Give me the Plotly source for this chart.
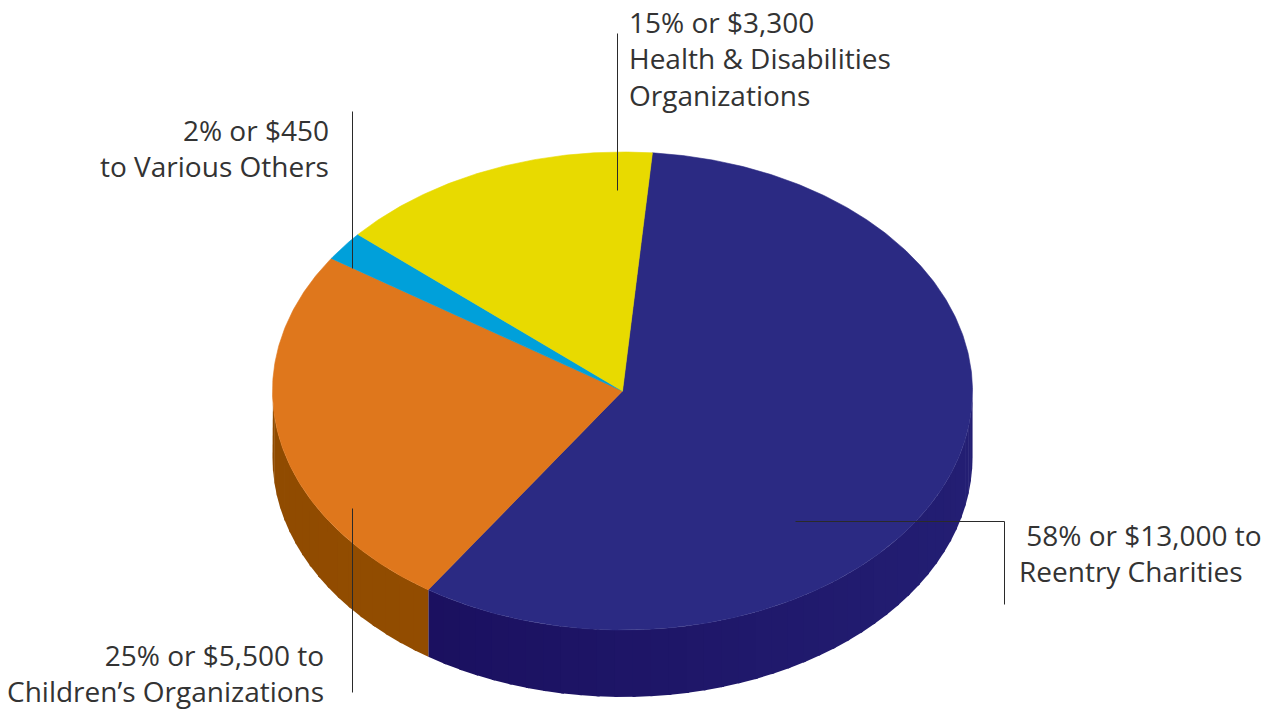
import numpy as np
import plotly.graph_objects as go

# ---- data ----
categories = ["Reentry Charities", "Children’s Organizations", "Various Others",
              "Health & Disabilities Organizations"]
percents = [58, 25, 2, 15]
amounts = [13000, 5500, 450, 3300]
label_texts = [
    "\u00a058% or $13,000 to<br>Reentry Charities",
    "25% or $5,500 to<br>Children’s Organizations",
    "2% or $450<br>to Various Others",
    "15% or $3,300<br>Health & Disabilities<br>Organizations",
]

# ---- style ----
top_colors = ["#2B2A83", "#DF771C", "#00A0DA", "#E8DA00"]
side_left = ["#180C5A", "#904B00", "#006F99", "#A39900"]
side_right = ["#231E73", "#985002", "#0078A3", "#ADA200"]

W, H = 1278, 711
CX, CY = 622.5, 391.0
RX, RY = 350.0, 239.0
DEPTH = 67.0
START = 85.1  # degrees, first slice begins here and runs clockwise


def hex2rgb(h):
    h = h.lstrip("#")
    return np.array([int(h[i:i + 2], 16) for i in (0, 2, 4)], dtype=float)


def lerp_col(c0, c1, f):
    c = hex2rgb(c0) * (1 - f) + hex2rgb(c1) * f
    return "rgb(%d,%d,%d)" % tuple(np.round(c).astype(int))


def ex(t):
    return CX + RX * np.cos(np.radians(t))


def ey(t):
    return CY - RY * np.sin(np.radians(t))


fig = go.Figure()

# slice angle ranges
total = float(sum(percents))
bounds = []
a = START
for p in percents:
    b = a - p / total * 360.0
    bounds.append((b, a))  # (lo, hi)
    a = b

# side walls (front half: sin(t) < 0)
for i, (lo, hi) in enumerate(bounds):
    for k in (-720, -360, 0, 360):
        s0 = max(lo, -180 + k)
        s1 = min(hi, 0 + k)
        if s1 <= s0:
            continue
        n = max(1, int(np.ceil((s1 - s0) / 3.0)))
        edges = np.linspace(s0, s1, n + 1)
        for j in range(n):
            e1 = min(edges[j + 1] + 0.5, s1)
            t = np.linspace(edges[j], e1, 6)
            xs = np.concatenate([ex(t), ex(t[::-1])])
            ys = np.concatenate([ey(t), ey(t[::-1]) + DEPTH])
            xm = ex((edges[j] + edges[j + 1]) / 2)
            f = (xm - (CX - RX)) / (2 * RX)
            col = lerp_col(side_left[i], side_right[i], f)
            fig.add_trace(go.Scatter(
                x=list(xs) + [xs[0]], y=list(ys) + [ys[0]], mode="lines",
                fill="toself", fillcolor=col, line=dict(width=0),
                hoverinfo="skip", showlegend=False))

# top faces
for i, (lo, hi) in enumerate(bounds):
    t = np.linspace(hi, lo, max(8, int((hi - lo) * 2)))
    xs = np.concatenate([[CX], ex(t), [CX]])
    ys = np.concatenate([[CY], ey(t), [CY]])
    fig.add_trace(go.Scatter(
        x=xs, y=ys, mode="lines", fill="toself", fillcolor=top_colors[i],
        line=dict(color=top_colors[i], width=0.6),
        name=categories[i], hoverinfo="name", showlegend=False))

# leader lines
LC = "#2a2a2a"
leaders = [
    [(795, 521), (1004, 521), (1004, 604)],
    [(352, 508), (352, 692)],
    [(352, 111), (352, 268)],
    [(617, 33), (617, 190)],
]
for pts in leaders:
    for (x0, y0), (x1, y1) in zip(pts[:-1], pts[1:]):
        fig.add_shape(type="line", x0=x0 + 0.5, y0=y0 + 0.5, x1=x1 + 0.5,
                      y1=y1 + 0.5, xref="x", yref="y",
                      line=dict(color=LC, width=1))

font = dict(family="Open Sans, Noto Sans, sans-serif", size=28, color="#333333")
ann_pos = [
    (1017, 553, "left"),
    (326, 673, "right"),
    (331, 148, "right"),
    (627, 58, "left"),
]
for txt, (x, y, al) in zip(label_texts, ann_pos):
    fig.add_annotation(x=x, y=y, xref="x", yref="y", text=txt, showarrow=False,
                       xanchor=al, yanchor="middle", align=al, font=font)

fig.update_layout(
    width=W, height=H, margin=dict(l=0, r=0, t=0, b=0),
    paper_bgcolor="white", plot_bgcolor="white",
    xaxis=dict(range=[0, W], visible=False, fixedrange=True),
    yaxis=dict(range=[H, 0], visible=False, fixedrange=True),
    showlegend=False,
)

fig.write_html(
    "out.html",
    config={"displayModeBar": False},
    post_script="document.body.style.margin='0';document.body.style.overflow='hidden';",
)
